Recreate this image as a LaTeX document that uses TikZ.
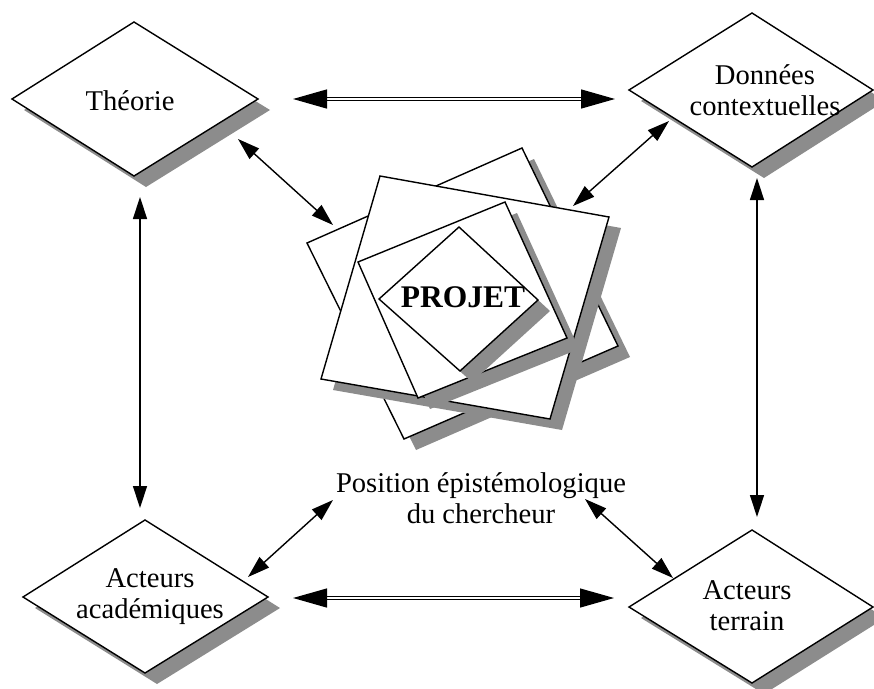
\documentclass[tikz,border=0pt]{standalone}
\usepackage{fontspec}
\setmainfont{Liberation Serif}
\usetikzlibrary{arrows.meta}
\definecolor{shadowgray}{RGB}{140,140,140}
\begin{document}
\begin{tikzpicture}[x=1pt,y=-1pt,
  shapeline/.style={draw=black,line width=1.4pt,fill=white,line join=miter},
  lbl/.style={font=\fontsize{28.6}{31}\selectfont,align=center,inner sep=0pt},
  biarrow/.style={line width=1.4pt,{Triangle[length=22pt,width=14pt]}-{Triangle[length=22pt,width=14pt]}},
  dblarrow/.style={double=white,double distance=1.8pt,line width=1.3pt,{Triangle[length=34pt,width=19pt]}-{Triangle[length=34pt,width=19pt]}}
]
\useasboundingbox (0,0) rectangle (874,688);
\fill[white] (0,0) rectangle (874,688);

% ---- corner diamonds ----
% Theorie
\fill[shadowgray] (24,110) -- (146,34) -- (270,110) -- (146,187) -- cycle;
\draw[shapeline] (12,99) -- (134,22) -- (258,99) -- (134,176) -- cycle;
\node[lbl] (theorie) at (130,101) {Théorie};
% Donnees
\fill[shadowgray] (641,101) -- (764,24) -- (885,101) -- (764,178) -- cycle;
\draw[shapeline] (629,90) -- (752,13) -- (873,90) -- (752,167) -- cycle;
\node[lbl] (donnees) at (765,90) {Données\\contextuelles};
% Acteurs academiques
\fill[shadowgray] (35,608) -- (157,531) -- (280,608) -- (157,684) -- cycle;
\draw[shapeline] (23,597) -- (145,520) -- (268,597) -- (145,673) -- cycle;
\node[lbl] (academiques) at (150,597) {Acteurs\\académiques};
% Acteurs terrain
\fill[shadowgray] (641,618) -- (764,541) -- (885,618) -- (764,694) -- cycle;
\draw[shapeline] (629,607) -- (752,530) -- (873,607) -- (752,683) -- cycle;
\node[lbl] (terrain) at (747,606) {Acteurs\\terrain};

% ---- central stack ----
\fill[shadowgray] (319,254) -- (534,159) -- (630,357) -- (416,450) -- cycle;
\draw[shapeline] (307,243) -- (522,148) -- (618,346) -- (404,439) -- cycle;
\fill[shadowgray] (392,187) -- (621,228) -- (562,430) -- (333,390) -- cycle;
\draw[shapeline] (380,176) -- (609,217) -- (550,419) -- (321,379) -- cycle;
\fill[shadowgray] (370,273) -- (517,213) -- (579,349) -- (430,409) -- cycle;
\draw[shapeline] (358,262) -- (505,202) -- (567,338) -- (418,398) -- cycle;
\fill[shadowgray] (471,238) -- (550,311) -- (472,382) -- (391,310) -- cycle;
\draw[shapeline] (459,227) -- (538,300) -- (460,371) -- (379,299) -- cycle;
\node[font=\fontsize{31.5}{34}\selectfont\bfseries,inner sep=0pt] (projet) at (463,297) {PROJET};

% ---- position text ----
\node[lbl] (position) at (481,498) {Position épistémologique\\du chercheur};

% ---- arrow end coordinates ----
\coordinate (tdL) at (293,99);
\coordinate (tdR) at (615,99);
\coordinate (bdL) at (293,598);
\coordinate (bdR) at (614,598);
\coordinate (lvT) at (140,197);
\coordinate (lvB) at (140,508);
\coordinate (rvT) at (757,178);
\coordinate (rvB) at (757,517);
\coordinate (thA) at (238,139);
\coordinate (thB) at (333,225);
\coordinate (dcA) at (669,121);
\coordinate (dcB) at (573,206);
\coordinate (acA) at (248,577);
\coordinate (acB) at (333,500);
\coordinate (atA) at (673,578);
\coordinate (atB) at (585,499);

% ---- arrows ----
\draw[dblarrow] (tdL) -- (tdR);
\draw[dblarrow] (bdL) -- (bdR);
\draw[biarrow] (lvT) -- (lvB);
\draw[biarrow] (rvT) -- (rvB);
\draw[biarrow] (thA) -- (thB);
\draw[biarrow] (dcA) -- (dcB);
\draw[biarrow] (acA) -- (acB);
\draw[biarrow] (atA) -- (atB);
\end{tikzpicture}
\end{document}
